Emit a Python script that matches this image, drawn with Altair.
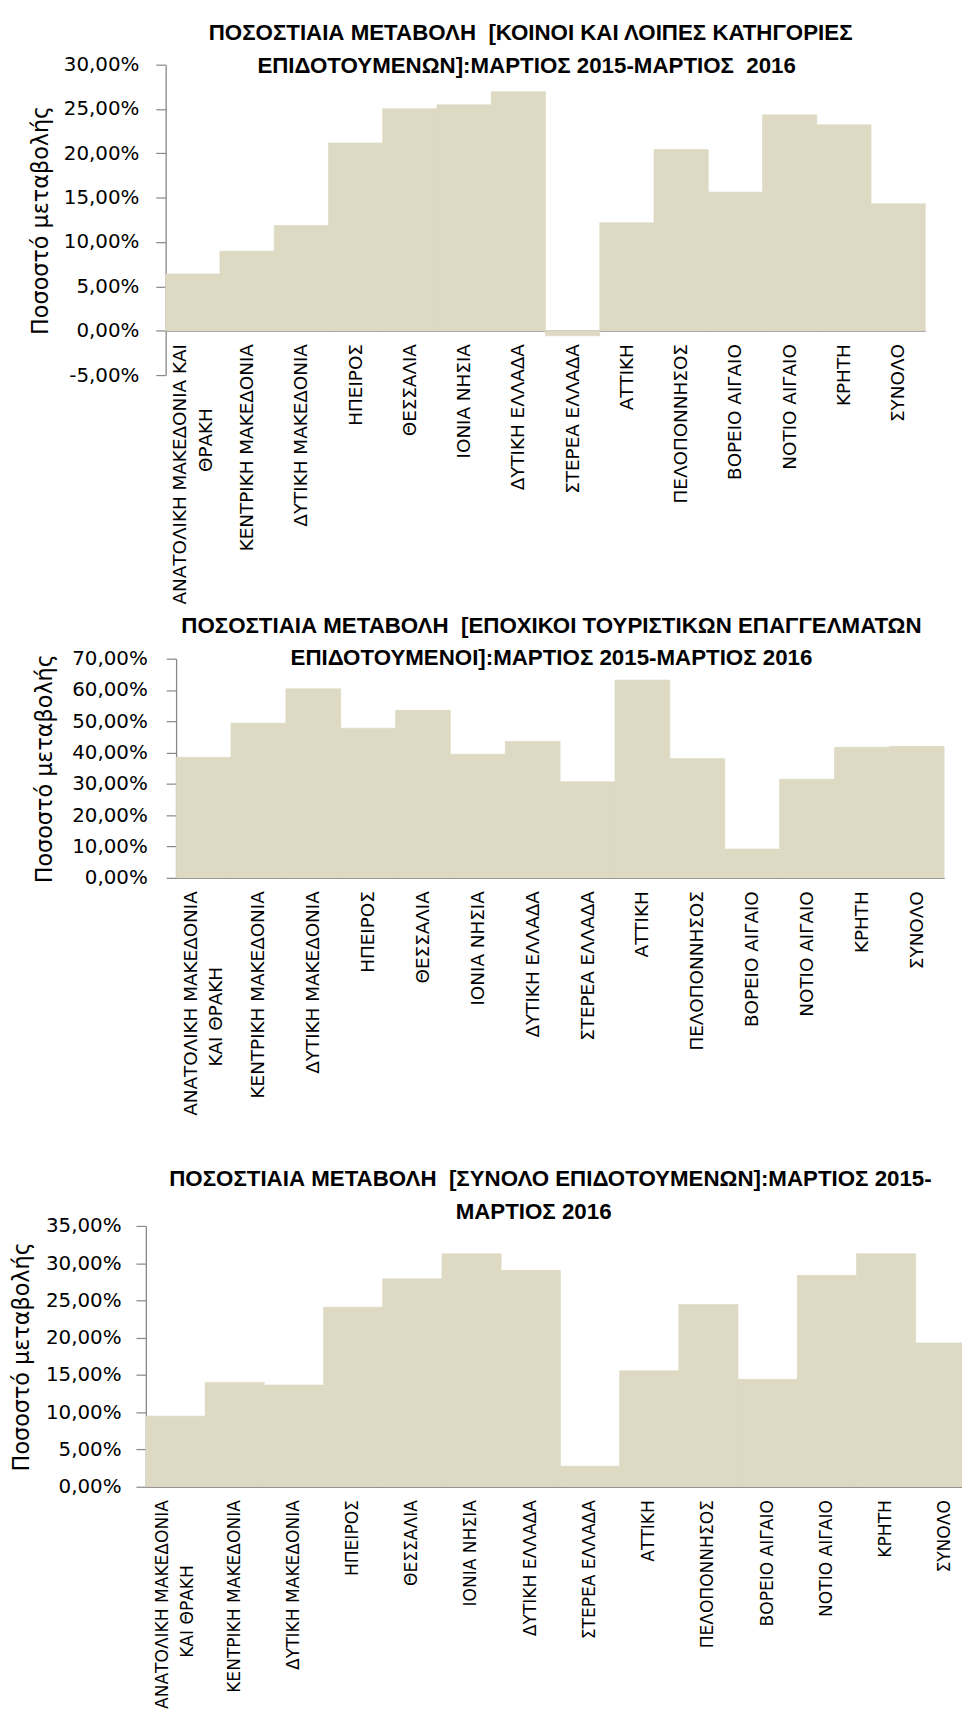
import altair as alt
import pandas as pd

# ---------------- data ----------------
regions_1 = ["ΑΝΑΤΟΛΙΚΗ ΜΑΚΕΔΟΝΙΑ ΚΑΙ|ΘΡΑΚΗ", "ΚΕΝΤΡΙΚΗ ΜΑΚΕΔΟΝΙΑ", "ΔΥΤΙΚΗ ΜΑΚΕΔΟΝΙΑ",
             "ΗΠΕΙΡΟΣ", "ΘΕΣΣΑΛΙΑ", "ΙΟΝΙΑ ΝΗΣΙΑ", "ΔΥΤΙΚΗ ΕΛΛΑΔΑ", "ΣΤΕΡΕΑ ΕΛΛΑΔΑ",
             "ΑΤΤΙΚΗ", "ΠΕΛΟΠΟΝΝΗΣΟΣ", "ΒΟΡΕΙΟ ΑΙΓΑΙΟ", "ΝΟΤΙΟ ΑΙΓΑΙΟ", "ΚΡΗΤΗ", "ΣΥΝΟΛΟ"]
regions_23 = ["ΑΝΑΤΟΛΙΚΗ ΜΑΚΕΔΟΝΙΑ|ΚΑΙ ΘΡΑΚΗ", "ΚΕΝΤΡΙΚΗ ΜΑΚΕΔΟΝΙΑ", "ΔΥΤΙΚΗ ΜΑΚΕΔΟΝΙΑ",
              "ΗΠΕΙΡΟΣ", "ΘΕΣΣΑΛΙΑ", "ΙΟΝΙΑ ΝΗΣΙΑ", "ΔΥΤΙΚΗ ΕΛΛΑΔΑ", "ΣΤΕΡΕΑ ΕΛΛΑΔΑ",
              "ΑΤΤΙΚΗ", "ΠΕΛΟΠΟΝΝΗΣΟΣ", "ΒΟΡΕΙΟ ΑΙΓΑΙΟ", "ΝΟΤΙΟ ΑΙΓΑΙΟ", "ΚΡΗΤΗ", "ΣΥΝΟΛΟ"]

# percentage change (%)
values_regular = [6.41, 8.97, 11.87, 21.18, 25.03, 25.48, 26.95, -0.57,
                  12.17, 20.43, 15.64, 24.35, 23.22, 14.32]
values_seasonal = [38.5, 49.4, 60.4, 47.8, 53.5, 39.5, 43.6, 30.7,
                   63.2, 38.1, 9.2, 31.5, 41.7, 42.0]
values_total = [9.47, 14.0, 13.65, 24.1, 27.9, 31.26, 29.04, 2.76,
                15.56, 24.46, 14.41, 28.37, 31.26, 19.3]

title_1 = ["ΠΟΣΟΣΤΙΑΙΑ ΜΕΤΑΒΟΛΗ  [ΚΟΙΝΟΙ ΚΑΙ ΛΟΙΠΕΣ ΚΑΤΗΓΟΡΙΕΣ",
           "ΕΠΙΔΟΤΟΥΜΕΝΩΝ]:ΜΑΡΤΙΟΣ 2015-ΜΑΡΤΙΟΣ  2016"]
title_2 = ["ΠΟΣΟΣΤΙΑΙΑ ΜΕΤΑΒΟΛΗ  [ΕΠΟΧΙΚΟΙ ΤΟΥΡΙΣΤΙΚΩΝ ΕΠΑΓΓΕΛΜΑΤΩΝ",
           "ΕΠΙΔΟΤΟΥΜΕΝΟΙ]:ΜΑΡΤΙΟΣ 2015-ΜΑΡΤΙΟΣ 2016"]
title_3 = ["ΠΟΣΟΣΤΙΑΙΑ ΜΕΤΑΒΟΛΗ  [ΣΥΝΟΛΟ ΕΠΙΔΟΤΟΥΜΕΝΩΝ]:ΜΑΡΤΙΟΣ 2015-",
           "ΜΑΡΤΙΟΣ 2016"]
y_title = "Ποσοστό μεταβολής"

# ---------------- style / layout ----------------
BAR = "#DDD9C3"
AXIS = "#878787"
TITLE_FONT = "Liberation Sans"
LABEL_FONT = "DejaVu Sans"
NBSP = "\u00a0"
ZWSP = "\u200b"
W, H = 962, 1704          # whole drawing (page minus the 8px margin)


def label_expr(first, pad_n):
    l1, l2 = first.split("|")
    return f"datum.label == '{first}' ? ['{l1}', '{l2}{NBSP * pad_n}{ZWSP}'] : datum.label"


Y_FMT = "replace(replace(format(datum.value, '.2f'), '.', ','), '\u2212', '-') + '%'"


def bars(cats, vals, ymin, ymax, ystep, xr, yr, ytitle_x, label_pad, pad_n, xlab=18.5):
    df = pd.DataFrame({"region": cats, "value": vals})
    zero_y = yr[0] + (yr[1] - yr[0]) * (0 - ymin) / (ymax - ymin)
    x = alt.X("region:N", sort=cats,
              scale=alt.Scale(range=xr, paddingInner=0, paddingOuter=0),
              axis=alt.Axis(orient="bottom", title=None, labelAngle=270, labelAlign="right",
                            labelBaseline="middle", labelFont=LABEL_FONT,
                            labelFontSize=xlab, labelColor="#000", labelPadding=13,
                            labelLimit=400, labelLineHeight=26, ticks=False,
                            labelOffset=alt.condition(f"datum.value == '{cats[0]}'",
                                                      alt.value(-13), alt.value(0)),
                            domainColor=AXIS, domainWidth=1.3,
                            offset=zero_y - H, labelExpr=label_expr(cats[0], pad_n)))
    y = alt.Y("value:Q",
              scale=alt.Scale(domain=[ymin, ymax], range=yr, nice=False),
              axis=alt.Axis(orient="left", title=y_title,
                            values=list(range(ymin, ymax + 1, ystep)),
                            grid=False, tickSize=10, tickColor=AXIS, tickWidth=1.2,
                            domainColor=AXIS, domainWidth=1.3, labelOverlap=False,
                            labelFont=LABEL_FONT, labelFontSize=20, labelColor="#000",
                            labelPadding=label_pad, labelExpr=Y_FMT,
                            titleX=ytitle_x, titleAngle=270, titleBaseline="middle",
                            titleAlign="center", titleFont=LABEL_FONT, titleFontSize=22.5,
                            titleFontWeight="normal", titleColor="#000", offset=-xr[0]))
    return (alt.Chart(df)
            .mark_bar(color=BAR, stroke=BAR, strokeWidth=0.6, clip=True)
            .encode(x=x, y=y))


def title(lines, positions):
    out = []
    for txt, (tx, ty) in zip(lines, positions):
        out.append(alt.Chart(pd.DataFrame({"t": [txt.replace("  ", " " + NBSP)]}))
                   .mark_text(font=TITLE_FONT, fontSize=22.5, fontWeight="bold",
                              align="center", baseline="top", color="#000")
                   .encode(text="t:N", x=alt.value(tx), y=alt.value(ty)))
    return out


p1 = bars(regions_1, values_regular, -5, 30, 5, [159, 925], [363, 50], -126, 17, 11)
p2 = bars(regions_23, values_seasonal, 0, 70, 10, [169.5, 944], [870, 649], -132.5, 19, 13)
p3 = bars(regions_23, values_total, 0, 35, 5, [139, 975], [1484, 1221], -125, 15, 12,
          xlab=17.2)

texts = (title(title_1, [(527, 7.6), (523, 40.6)])
         + title(title_2, [(548, 604.6), (548, 637.6)])
         + title(title_3, [(547, 1162.6), (530, 1195.6)]))

chart = (alt.layer(p1, p2, p3, *texts)
         .resolve_scale(x="independent", y="independent")
         .resolve_axis(x="independent", y="independent")
         .properties(width=W, height=H,
                     autosize=alt.AutoSizeParams(type="none"),
                     padding={"left": 0, "top": 0, "right": 0, "bottom": 0})
         .configure(background="white")
         .configure_view(strokeWidth=0, strokeOpacity=0))

chart.save("out.html", embed_options={"renderer": "svg", "actions": False})
